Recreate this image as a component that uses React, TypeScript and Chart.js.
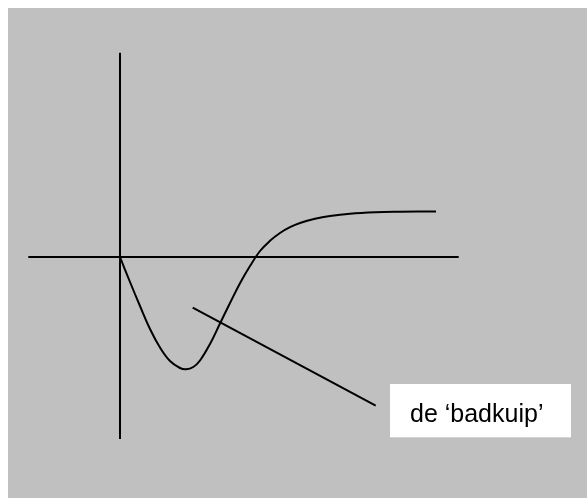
import React, { useEffect, useRef } from "react";
import { Chart, registerables } from "chart.js";

Chart.register(...registerables);

// Curve (the "bathtub"), in chart units: x to the right, y up, axes cross at (0,0)
const curveX = [0, 1, 2, 3, 4, 5, 6, 6.6, 7.33, 8, 9, 10, 11, 12, 13, 14, 15, 16, 17, 18, 19.5, 21, 23, 25.5, 28, 31.6];
const curveY = [0, -2.5, -4.9, -7.2, -9.05, -10.4, -11.1, -11.23, -11.0, -10.35, -8.7, -6.65, -4.6, -2.62, -0.9, 0.6, 1.62, 2.4, 2.98, 3.4, 3.82, 4.1, 4.33, 4.47, 4.52, 4.55];

// Axis lines
const vAxisX = [0, 0];
const vAxisY = [20.43, -18.2];
const hAxisX = [-9.17, 33.87];
const hAxisY = [0, 0];

// Pointer line toward the label
const pointerX = [7.27, 25.57];
const pointerY = [-5.07, -14.87];

// Label box
const labelText = "de \u2018badkuip\u2019";
const labelBoxX = [27, 45.1];
const labelBoxY = [-12.7, -18.03];
const labelAnchor = [29, -16.53];

const pts = (xs: number[], ys: number[]) => xs.map((x, i) => ({ x, y: ys[i] }));

export default function App() {
  const ref = useRef<HTMLCanvasElement | null>(null);
  useEffect(() => {
    if (!ref.current) return;
    const bgPlugin = {
      id: "bg",
      beforeDraw(chart: any) {
        const { ctx, width, height } = chart;
        ctx.save();
        ctx.fillStyle = "#c0c0c0";
        ctx.fillRect(0, 0, width, height);
        ctx.restore();
      },
    };
    const labelPlugin = {
      id: "label",
      afterDatasetsDraw(chart: any) {
        const { ctx, scales } = chart;
        const xs = scales.x;
        const ys = scales.y;
        const x0 = xs.getPixelForValue(labelBoxX[0]);
        const x1 = xs.getPixelForValue(labelBoxX[1]);
        const y0 = ys.getPixelForValue(labelBoxY[0]);
        const y1 = ys.getPixelForValue(labelBoxY[1]);
        ctx.save();
        ctx.fillStyle = "#ffffff";
        ctx.fillRect(x0, y0, x1 - x0, y1 - y0);
        ctx.fillStyle = "#000000";
        ctx.font = "25px 'Liberation Sans', Arial, sans-serif";
        ctx.textBaseline = "alphabetic";
        ctx.textAlign = "left";
        ctx.fillText(labelText, xs.getPixelForValue(labelAnchor[0]), ys.getPixelForValue(labelAnchor[1]));
        ctx.restore();
      },
    };
    const line = (data: any[], extra: any = {}) => ({
      data,
      showLine: true,
      borderColor: "#000000",
      backgroundColor: "#000000",
      borderWidth: 2,
      pointRadius: 0,
      pointHoverRadius: 0,
      fill: false,
      clip: false,
      ...extra,
    });
    const chart = new Chart(ref.current, {
      type: "scatter",
      data: {
        datasets: [
          line(pts(vAxisX, vAxisY)),
          line(pts(hAxisX, hAxisY)),
          line(pts(curveX, curveY), { tension: 0.4 }),
          line(pts(pointerX, pointerY)),
        ],
      },
      options: {
        animation: false,
        responsive: true,
        maintainAspectRatio: false,
        layout: { padding: 0 },
        plugins: { legend: { display: false }, tooltip: { enabled: false } },
        events: [],
        scales: {
          x: { type: "linear", display: false, min: -11.2, max: 46.7 },
          y: { type: "linear", display: false, min: -24.1, max: 24.9 },
        },
      },
      plugins: [bgPlugin, labelPlugin],
    });
    return () => chart.destroy();
  }, []);
  return (
    <div style={{ position: "fixed", left: 8, top: 8, width: 579, height: 490 }}>
      <canvas ref={ref} />
    </div>
  );
}
